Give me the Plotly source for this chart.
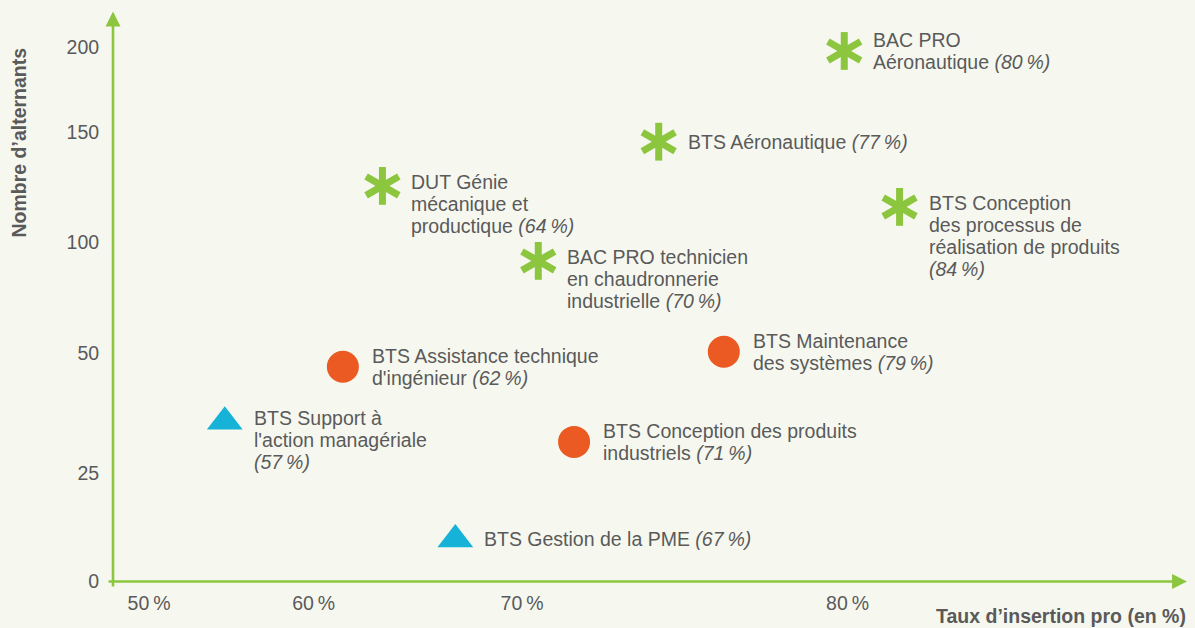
import numpy as np
import plotly.graph_objects as go

# ---------------- data ----------------
names = [
    "BTS Support à<br>l'action managériale<br>{r}",
    "BTS Gestion de la PME {r}",
    "BTS Assistance technique<br>d'ingénieur {r}",
    "BTS Conception des produits<br>industriels {r}",
    "BTS Maintenance<br>des systèmes {r}",
    "DUT Génie<br>mécanique et<br>productique {r}",
    "BAC PRO technicien<br>en chaudronnerie<br>industrielle {r}",
    "BTS Aéronautique {r}",
    "BAC PRO<br>Aéronautique {r}",
    "BTS Conception<br>des processus de<br>réalisation de produits<br>{r}",
]
groups = ["A", "A", "B", "B", "B", "C", "C", "C", "C", "C"]
rates = [57, 67, 62, 71, 79, 64, 70, 77, 80, 84]
# positions read off the (non-linear) axes of the picture
x_read = [54.6, 66.8, 61.4, 71.6, 76.2, 63.3, 70.5, 74.2, 79.9, 81.6]
y_read = [35.7, 9.7, 47.2, 31.5, 50.7, 125.5, 91.4, 145.7, 197.5, 115.9]

x_tick_vals = [50, 60, 70, 80]
x_tick_text = ["50\u2009%", "60\u2009%", "70\u2009%", "80\u2009%"]
y_tick_vals = [0, 25, 50, 100, 150, 200]
y_tick_text = ["0", "25", "50", "100", "150", "200"]

# ---------------- layout / scale ----------------
W, H = 1195, 628
PL, PR, PT, PB = 113, 1187, 8, 584
# where each tick sits along its axis (canvas units == px)
X_TICK_POS = [149, 313.7, 522, 847.5]
Y_TICK_POS = [581.5, 473, 353.3, 241.7, 132.3, 46.7]

BG = "#f6f8f0"
GREEN = "#8cc63f"
ORANGE = "#eb5a22"
BLUE = "#16b2d8"
TXT = "#5a5a5a"
FONT = "Liberation Sans, Arial, sans-serif"
FS = 19.5
LH = 22


def warp(v, ticks, pos):
    v = np.asarray(v, float)
    t = np.asarray(ticks, float)
    p = np.asarray(pos, float)
    out = np.interp(v, t, p)
    lo = v < t[0]
    hi = v > t[-1]
    out[lo] = p[0] + (v[lo] - t[0]) * (p[1] - p[0]) / (t[1] - t[0])
    out[hi] = p[-1] + (v[hi] - t[-1]) * (p[-1] - p[-2]) / (t[-1] - t[-2])
    return out


xs = warp(x_read, x_tick_vals, X_TICK_POS)
ys = warp(y_read, y_tick_vals, Y_TICK_POS)
groups_arr = np.array(groups)

fig = go.Figure()

# group A: triangles
m = groups_arr == "A"
fig.add_trace(go.Scatter(x=xs[m], y=ys[m], mode="markers", cliponaxis=False,
                         marker=dict(symbol="triangle-up", size=31, color=BLUE,
                                     line=dict(width=0)),
                         showlegend=False, hoverinfo="skip"))
# group B: circles
m = groups_arr == "B"
fig.add_trace(go.Scatter(x=xs[m], y=ys[m], mode="markers", cliponaxis=False,
                         marker=dict(symbol="circle", size=32, color=ORANGE,
                                     line=dict(width=0)),
                         showlegend=False, hoverinfo="skip"))
# group C: six-petal flowers
m = groups_arr == "C"
for ang in (0, 60, 120):
    fig.add_trace(go.Scatter(x=xs[m], y=ys[m], mode="markers", cliponaxis=False,
                             marker=dict(symbol="line-ns-open", size=27, angle=ang,
                                         color=GREEN,
                                         line=dict(width=7, color=GREEN)),
                             showlegend=False, hoverinfo="skip"))

annotations = []
for name, r, x, y in zip(names, rates, xs, ys):
    text = name.replace("{r}", "<i>(%d\u2009%%)</i>" % r)
    lines = text.split("<br>")
    n = len(lines)
    for i, ln in enumerate(lines):
        if n <= 2:
            off = (i - (n - 1) / 2) * LH
        else:
            off = -4 + i * LH
        annotations.append(dict(x=x, y=y, xref="x", yref="y", text=ln,
                                showarrow=False, xanchor="left", yanchor="middle",
                                xshift=27, yshift=-off,
                                font=dict(family=FONT, size=FS, color=TXT)))


def pxx(px):
    return (px - PL) / (PR - PL)


def pxy(py):
    return (PB - py) / (PB - PT)


# axis arrows
annotations.append(dict(x=pxx(1187), y=pxy(581.5), xref="paper", yref="paper",
                        ax=107 - 1187, ay=0, axref="pixel", ayref="pixel",
                        text="", showarrow=True, arrowhead=2, arrowsize=1.15,
                        arrowwidth=2.6, arrowcolor=GREEN, standoff=0))
annotations.append(dict(x=pxx(113), y=pxy(11.5), xref="paper", yref="paper",
                        ax=0, ay=588 - 11.5, axref="pixel", ayref="pixel",
                        text="", showarrow=True, arrowhead=2, arrowsize=1.15,
                        arrowwidth=2.6, arrowcolor=GREEN, standoff=0))
# axis titles
annotations.append(dict(x=pxx(1188), y=pxy(616), xref="paper", yref="paper",
                        text="<b>Taux d\u2019insertion pro (en %)</b>", showarrow=False,
                        xanchor="right", yanchor="middle",
                        font=dict(family=FONT, size=FS, color=TXT)))
annotations.append(dict(x=pxx(18), y=pxy(142.5), xref="paper", yref="paper",
                        text="<b>Nombre d\u2019alternants</b>", showarrow=False,
                        textangle=-90, xanchor="center", yanchor="middle",
                        font=dict(family=FONT, size=FS, color=TXT)))

fig.update_layout(
    width=W, height=H,
    margin=dict(l=PL, r=W - PR, t=PT, b=H - PB),
    paper_bgcolor=BG, plot_bgcolor=BG,
    xaxis=dict(range=[PL, PR], tickvals=warp(x_tick_vals, x_tick_vals, X_TICK_POS),
               ticktext=x_tick_text, showgrid=False, zeroline=False, showline=False,
               ticks="outside", ticklen=2, tickcolor=BG,
               tickfont=dict(family=FONT, size=FS, color=TXT), fixedrange=True),
    yaxis=dict(range=[PB, PT], tickvals=warp(y_tick_vals, y_tick_vals, Y_TICK_POS),
               ticktext=y_tick_text, showgrid=False, zeroline=False, showline=False,
               ticks="outside", ticklen=9, tickcolor=BG,
               tickfont=dict(family=FONT, size=FS, color=TXT), fixedrange=True),
    annotations=annotations,
    showlegend=False,
)

fig.write_html("out.html", config={"displayModeBar": False},
               post_script="document.body.style.margin='0';"
                           "document.body.style.background='" + BG + "';")
